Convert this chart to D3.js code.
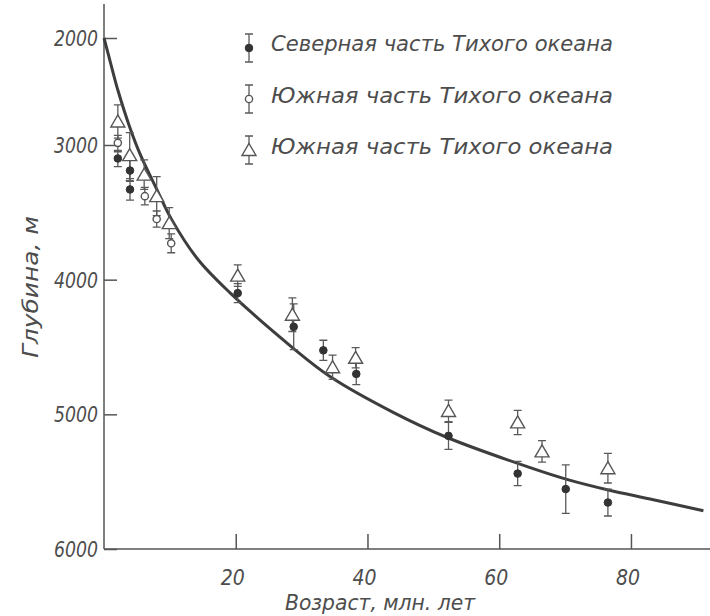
<!DOCTYPE html>
<html>
<head>
<meta charset="utf-8">
<script src="https://cdn.jsdelivr.net/npm/d3@7"></script>
<style>
	body { margin: 0; background: #fff; }
	svg { display: block; }
	.lbl { font-family: "DejaVu Sans Condensed", "DejaVu Sans", sans-serif; font-style: oblique; fill: #4d4d4d; }
</style>
</head>
<body>
<div id="chart"></div>
<script>
// fitted curve
var curveAge = [0, 1, 2.1, 3.95, 5.5, 8.05, 10.3, 14.3, 19.1, 28.6, 34.3, 43.9, 52.1, 64.7, 70.4, 76.4, 83.4, 91];
var curveDepth = [2000, 2234, 2486, 2841, 3070, 3333, 3556, 3852, 4096, 4504, 4719, 4985, 5172, 5396, 5485, 5560, 5634, 5716];

// Северная часть Тихого океана (filled circles)
var northAge = [2.1, 3.95, 3.95, 20.3, 28.8, 33.3, 38.3, 52.3, 62.8, 70.1, 76.5];
var northDepth = [3100, 3190, 3330, 4100, 4350, 4525, 4700, 5160, 5440, 5555, 5655];
var northErr = [60, 80, 80, 70, 170, 75, 80, 100, 90, 180, 100];

// Южная часть Тихого океана (open circles)
var southAge = [2.1, 6.2, 8.0, 10.2];
var southDepth = [2980, 3380, 3550, 3730];
var southErr = [70, 65, 60, 70];

// Южная часть Тихого океана (triangles)
var triAge = [2.1, 3.9, 6.1, 8.0, 9.9, 20.3, 28.6, 34.7, 38.2, 52.3, 62.8, 66.5, 76.5];
var triDepth = [2780, 3075, 3220, 3380, 3580, 3970, 4260, 4650, 4580, 4975, 5060, 5275, 5400];
var triErr = [155, 190, 110, 145, 115, 80, 125, 90, 75, 80, 90, 80, 110];

var xTicks = [20, 40, 60, 80];
var yTicks = [2000, 3000, 4000, 5000, 6000];
var legendLabels = ["Северная часть Тихого океана", "Южная часть Тихого океана", "Южная часть Тихого океана"];

var W = 710, H = 616;

var svg = d3.select("#chart").append("svg")
	.attr("width", W)
	.attr("height", H);

var x = d3.scaleLinear().domain([0, 92]).range([104, 710]);
// the printed depth axis is not evenly spaced at the top
var y = d3.scaleLinear().domain([2000, 3000, 6000]).range([38, 145, 549]);

// axes
var xAxis = svg.append("g")
	.attr("transform", "translate(0,549)")
	.call(d3.axisTop(x).tickValues(xTicks).tickSize(15).tickFormat(""));
xAxis.select(".domain").attr("d", "M104,0H710");
xAxis.selectAll("line, path").attr("stroke", "#555").attr("stroke-width", 1.5);

var yAxis = svg.append("g")
	.attr("transform", "translate(104,0)")
	.call(d3.axisRight(y).tickValues(yTicks).tickSize(13).tickFormat(""));
yAxis.select(".domain").attr("d", "M0,4V549");
yAxis.selectAll("line, path").attr("stroke", "#555").attr("stroke-width", 1.5);

// tick labels
svg.selectAll(".xlab").data(xTicks).enter().append("text")
	.attr("class", "lbl xlab")
	.attr("x", function(d) { return x(d) - 3; })
	.attr("y", 585)
	.attr("text-anchor", "middle")
	.style("font-size", "21px")
	.text(function(d) { return d; });

svg.selectAll(".ylab").data(yTicks).enter().append("text")
	.attr("class", "lbl ylab")
	.attr("x", 98)
	.attr("y", function(d) { return y(d) + 8; })
	.attr("text-anchor", "end")
	.style("font-size", "21px")
	.attr("textLength", 44)
	.attr("lengthAdjust", "spacingAndGlyphs")
	.text(function(d) { return d; });

svg.append("text")
	.attr("class", "lbl")
	.attr("x", 380)
	.attr("y", 610)
	.attr("text-anchor", "middle")
	.style("font-size", "21px")
	.attr("textLength", 190)
	.attr("lengthAdjust", "spacingAndGlyphs")
	.text("Возраст, млн. лет");

svg.append("text")
	.attr("class", "lbl")
	.attr("transform", "translate(38,287) rotate(-90)")
	.attr("text-anchor", "middle")
	.style("font-size", "22px")
	.attr("textLength", 142)
	.attr("lengthAdjust", "spacingAndGlyphs")
	.text("Глубина, м");

// fitted curve
var line = d3.line()
	.x(function(d) { return x(d[0]); })
	.y(function(d) { return y(d[1]); })
	.curve(d3.curveCatmullRom);
svg.append("path")
	.datum(d3.zip(curveAge, curveDepth))
	.attr("d", line)
	.attr("fill", "none")
	.attr("stroke", "#3d3d3d")
	.attr("stroke-width", 3);

// error bars + markers
var cap = 4;
function errorBars(ages, depths, errs) {
	var g = svg.append("g").attr("stroke", "#5a5a5a").attr("stroke-width", 1.3).attr("fill", "none");
	ages.forEach(function(a, i) {
		var cx = x(a), top = y(depths[i] - errs[i]), bot = y(depths[i] + errs[i]);
		g.append("path").attr("d", "M" + cx + "," + top + "V" + bot +
			"M" + (cx - cap) + "," + top + "H" + (cx + cap) +
			"M" + (cx - cap) + "," + bot + "H" + (cx + cap));
	});
}
errorBars(northAge, northDepth, northErr);
errorBars(southAge, southDepth, southErr);
errorBars(triAge, triDepth, triErr);

var triPath = "M0,-6.5L7,5.5H-7Z";
function drawMarker(g, kind, cx, cy) {
	if (kind === "filled") {
		g.append("circle").attr("cx", cx).attr("cy", cy).attr("r", 3.8)
			.attr("fill", "#333").attr("stroke", "#333").attr("stroke-width", 1);
	} else if (kind === "open") {
		g.append("circle").attr("cx", cx).attr("cy", cy).attr("r", 3.6)
			.attr("fill", "#fff").attr("stroke", "#555").attr("stroke-width", 1.4);
	} else {
		g.append("path").attr("d", triPath).attr("transform", "translate(" + cx + "," + cy + ")")
			.attr("fill", "#fff").attr("stroke", "#555").attr("stroke-width", 1.4);
	}
}
var marks = svg.append("g");
northAge.forEach(function(a, i) { drawMarker(marks, "filled", x(a), y(northDepth[i])); });
southAge.forEach(function(a, i) { drawMarker(marks, "open", x(a), y(southDepth[i])); });
triAge.forEach(function(a, i) { drawMarker(marks, "tri", x(a), y(triDepth[i])); });

// legend
var legendKinds = ["filled", "open", "tri"];
var leg = svg.append("g");
legendKinds.forEach(function(k, i) {
	var cy = 48 + i * 51;
	var half = 14;
	leg.append("path")
		.attr("d", "M249," + (cy - half) + "V" + (cy + half) +
			"M" + (249 - cap) + "," + (cy - half) + "H" + (249 + cap) +
			"M" + (249 - cap) + "," + (cy + half) + "H" + (249 + cap))
		.attr("stroke", "#5a5a5a").attr("stroke-width", 1.3).attr("fill", "none");
	drawMarker(leg, k, 249, cy);
	leg.append("text")
		.attr("class", "lbl")
		.attr("x", 271)
		.attr("y", cy + 3 + i * 0.5)
		.style("font-size", "21px")
		.attr("textLength", 342)
		.attr("lengthAdjust", "spacingAndGlyphs")
		.text(legendLabels[i]);
});
</script>
</body>
</html>
